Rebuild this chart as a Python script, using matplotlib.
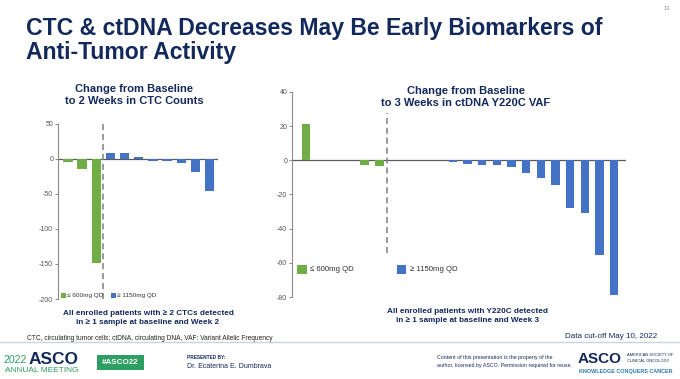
import matplotlib
matplotlib.use("Agg")
import matplotlib.pyplot as plt
from matplotlib.patches import Rectangle
from matplotlib.lines import Line2D

# ---------------- data ----------------
ctc_low = [-5, -14, -148]                       # <= 600mg QD
ctc_high = [9, 8, 3, -2.5, -2.5, -6, -18, -46]  # >= 1150mg QD

vaf_low = [21.2, 0.4, 0.0, 0.2, -2.5, -3.1]
vaf_high = [0, 0, 0, 0, -1.0, -2.2, -2.5, -2.7, -3.7, -7.5, -10.2, -14.2,
            -28.0, -31.0, -55.5, -79.0]

ctc_ticks = [-200, -150, -100, -50, 0, 50]
vaf_ticks = [-80, -60, -40, -20, 0, 20, 40]

legend_labels = ["\u2264 600mg QD", "\u2265 1150mg QD"]

GREEN = "#70AD47"
BLUE = "#4472C4"
NAVY = "#13295B"
GRAY = "#555555"

W, H = 680, 379
fig = plt.figure(figsize=(6.8, 3.79), dpi=100)
plt.rcParams['font.family'] = ['Liberation Sans', 'DejaVu Sans']


def fx(px):
    return px / W


def fy(py):
    return 1 - py / H


def style_axis(ax, ticks):
    for s in ['top', 'right', 'bottom']:
        ax.spines[s].set_visible(False)
    ax.spines['left'].set_color('#8a8a8a')
    ax.spines['left'].set_linewidth(0.8)
    ax.set_yticks(ticks)
    ax.set_yticklabels([str(t) for t in ticks])
    ax.tick_params(axis='y', length=2.5, width=0.7, color='#8a8a8a',
                   labelsize=5, labelcolor=GRAY, pad=1)
    ax.set_xticks([])
    ax.axhline(0, color='#5a5a5a', lw=0.9, zorder=1)
    ax.patch.set_alpha(0)


# ---------------- left chart ----------------
ax1 = fig.add_axes([fx(58), fy(299), fx(218) - fx(58), fy(124) - fy(299)])
n_low = len(ctc_low)
x_low = list(range(n_low))
x_high = list(range(n_low, n_low + len(ctc_high)))
ax1.bar(x_low, ctc_low, width=0.66, color=GREEN, zorder=2)
ax1.bar(x_high, ctc_high, width=0.66, color=BLUE, zorder=2)
ax1.set_xlim(-0.7, 10.6)
ax1.set_ylim(-200, 50)
style_axis(ax1, ctc_ticks)
ax1.plot([n_low - 0.5] * 2, [-200, 52], ls=(0, (4, 2.5)), color='#7f7f7f',
         lw=1.1, clip_on=False, zorder=3)

# ---------------- right chart ----------------
ax2 = fig.add_axes([fx(292), fy(297), fx(626) - fx(292), fy(92) - fy(297)])
m_low = len(vaf_low)
xr_low = list(range(m_low))
xr_high = list(range(m_low, m_low + len(vaf_high)))
ax2.bar(xr_low, vaf_low, width=0.57, color=GREEN, zorder=2)
ax2.bar(xr_high, vaf_high, width=0.57, color=BLUE, zorder=2)
ax2.set_xlim(-0.95, 21.8)
ax2.set_ylim(-80, 40)
style_axis(ax2, vaf_ticks)
ax2.plot([m_low - 0.5] * 2, [-54, 27.5], ls=(0, (4, 2.5)), color='#7f7f7f',
         lw=1.1, clip_on=False, zorder=3)

# ---------------- legends (manual) ----------------
def legend_item(x, y, size, color, label, tx, fs):
    fig.add_artist(Rectangle((fx(x), fy(y + size)), size / W, size / H,
                             transform=fig.transFigure, color=color, lw=0))
    fig.text(fx(tx), fy(y + size / 2), label, fontsize=fs, color='#333333',
             va='center', ha='left')

legend_item(61, 293, 4.5, GREEN, legend_labels[0], 67, 4.6)
legend_item(111, 293, 4.5, BLUE, legend_labels[1], 117, 4.6)
legend_item(297, 264.5, 9.5, GREEN, legend_labels[0], 309.5, 5.6)
legend_item(397, 264.5, 9.5, BLUE, legend_labels[1], 409.5, 5.6)

# ---------------- titles ----------------
fig.text(fx(26), fy(34.5), "CTC & ctDNA Decreases May Be Early Biomarkers of",
         fontsize=16.6, fontweight='bold', color=NAVY, va='baseline', ha='left')
fig.text(fx(26), fy(58.5), "Anti-Tumor Activity",
         fontsize=16.6, fontweight='bold', color=NAVY, va='baseline', ha='left')
fig.text(fx(667), fy(8), "13", fontsize=4, color='#888888', ha='center', va='center')

fig.text(fx(134), fy(95), "Change from Baseline\nto 2 Weeks in CTC Counts",
         fontsize=8, fontweight='bold', color=NAVY, ha='center', va='center',
         linespacing=1.35)
fig.text(fx(466), fy(97), "Change from Baseline\nto 3 Weeks in ctDNA Y220C VAF",
         fontsize=8, fontweight='bold', color=NAVY, ha='center', va='center',
         linespacing=1.35)

fig.text(fx(148), fy(318), "All enrolled patients with \u2265 2 CTCs detected\nin \u2265 1 sample at baseline and Week 2",
         fontsize=5.9, fontweight='bold', color=NAVY, ha='center', va='center',
         linespacing=1.3)
fig.text(fx(467.5), fy(316), "All enrolled patients with Y220C detected\nin \u2265 1 sample at baseline and Week 3",
         fontsize=5.9, fontweight='bold', color=NAVY, ha='center', va='center',
         linespacing=1.3)

# ---------------- footnotes ----------------
fig.text(fx(27), fy(338), "CTC, circulating tumor cells; ctDNA, circulating DNA, VAF: Variant Allelic Frequency",
         fontsize=4.75, color='#222222', ha='left', va='center')
fig.text(fx(657), fy(336), "Data cut-off May 10, 2022",
         fontsize=5.8, color=NAVY, ha='right', va='center')
fig.add_artist(Line2D([0, 1], [fy(342)] * 2, transform=fig.transFigure,
                      color='#C9D3E6', lw=1.0))

# ---------------- footer ----------------
LOGO_GREEN = "#2E9E62"
fig.text(fx(4), fy(363), "2022", fontsize=7.6, color=LOGO_GREEN,
         ha='left', va='baseline')
fig.text(fx(29), fy(364), "ASCO", fontsize=12.5, fontweight='bold', color=NAVY,
         ha='left', va='baseline')
fig.text(fx(5), fy(370.3), "ANNUAL MEETING", fontsize=6.0, color=LOGO_GREEN,
         ha='left', va='center')
fig.add_artist(Rectangle((fx(97), fy(370)), 47 / W, 15 / H,
                         transform=fig.transFigure, color=LOGO_GREEN, lw=0))
fig.text(fx(120.5), fy(362.5), "#ASCO22", fontsize=5.8, fontweight='bold',
         color='white', ha='center', va='center')
fig.text(fx(187), fy(357.5), "PRESENTED BY:", fontsize=3.4, fontweight='bold',
         color=NAVY, ha='left', va='center')
fig.text(fx(187), fy(366.5), "Dr. Ecaterina E. Dumbrava", fontsize=5, color=NAVY,
         ha='left', va='center')
fig.text(fx(437), fy(358), "Content of this presentation is the property of the",
         fontsize=3.75, color=NAVY, ha='left', va='center')
fig.text(fx(437), fy(365.5), "author, licensed by ASCO. Permission required for reuse.",
         fontsize=3.75, color=NAVY, ha='left', va='center')
fig.text(fx(578), fy(359), "ASCO", fontsize=11, fontweight='bold', color=NAVY,
         ha='left', va='center')
fig.text(fx(627), fy(355.5), "AMERICAN SOCIETY OF", fontsize=2.9, color=NAVY,
         ha='left', va='center')
fig.text(fx(627), fy(360.5), "CLINICAL ONCOLOGY", fontsize=2.9, color=NAVY,
         ha='left', va='center')
fig.text(fx(579), fy(371), "KNOWLEDGE CONQUERS CANCER", fontsize=3.9,
         fontweight='bold', color="#2B78B2", ha='left', va='center')

fig.savefig("out.png", dpi=100)
